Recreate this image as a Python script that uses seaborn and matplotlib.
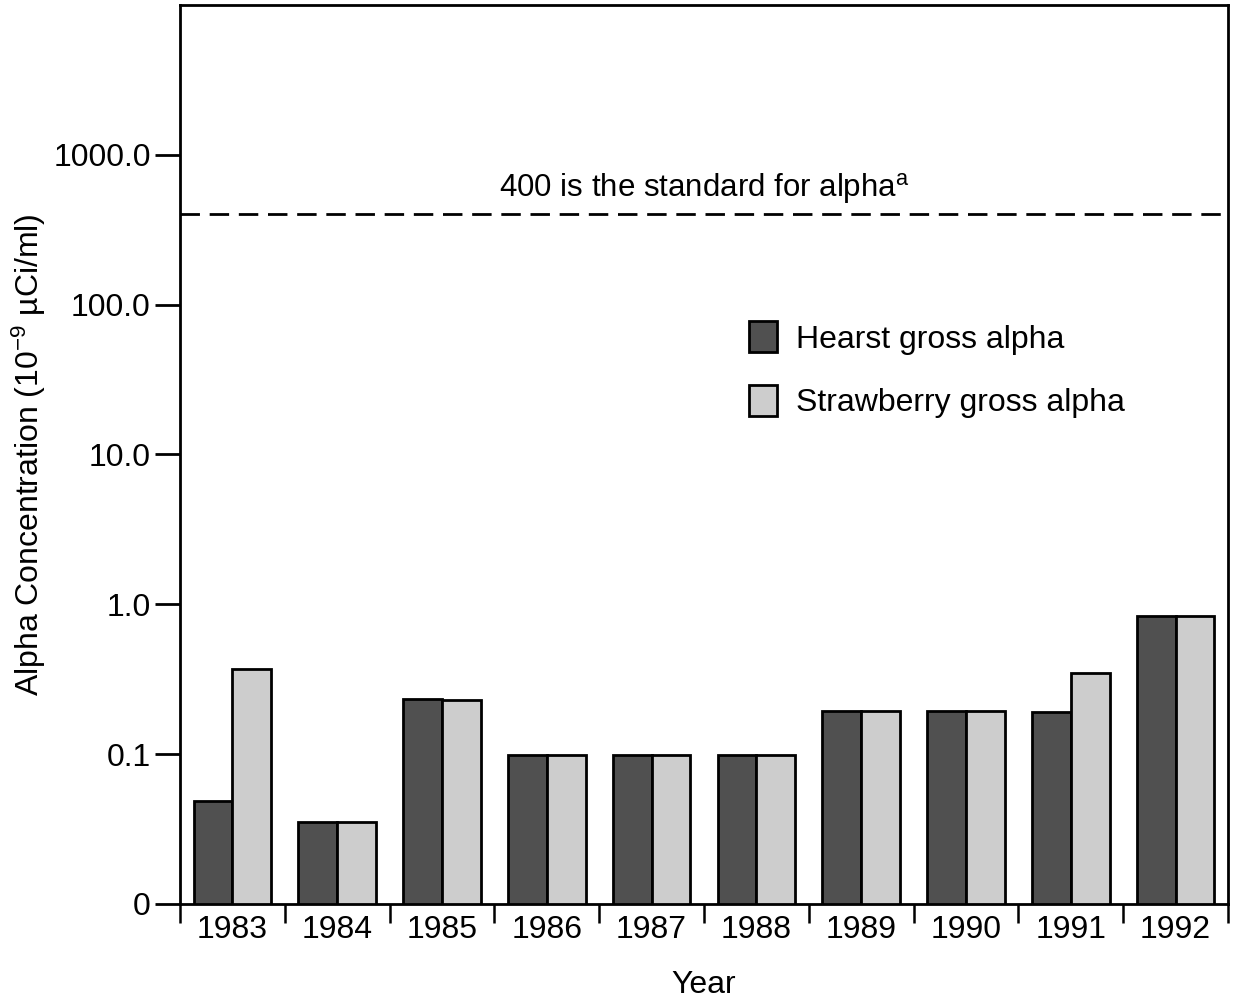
import matplotlib
matplotlib.use("Agg")
import matplotlib.pyplot as plt
import numpy as np
import pandas as pd
import seaborn as sns

years = ["1983", "1984", "1985", "1986", "1987", "1988", "1989", "1990", "1991", "1992"]
hearst = [0.049, 0.035, 0.235, 0.099, 0.099, 0.099, 0.193, 0.193, 0.19, 0.84]
strawberry = [0.37, 0.035, 0.23, 0.099, 0.099, 0.099, 0.193, 0.193, 0.35, 0.84]
series_names = ["Hearst gross alpha", "Strawberry gross alpha"]
ytick_vals = [0.01, 0.1, 1.0, 10.0, 100.0, 1000.0]
ytick_labels = ["0", "0.1", "1.0", "10.0", "100.0", "1000.0"]
standard = 400

df = pd.DataFrame({
    "Year": years * 2,
    "value": hearst + strawberry,
    "series": [series_names[0]] * len(years) + [series_names[1]] * len(years),
})

sns.set_style("white")
plt.rcParams["font.family"] = ["Liberation Sans", "DejaVu Sans"]
plt.rcParams["mathtext.fontset"] = "custom"
plt.rcParams["mathtext.rm"] = "Liberation Sans"
plt.rcParams["mathtext.it"] = "Liberation Sans"
plt.rcParams["text.color"] = "black"
plt.rcParams["axes.labelcolor"] = "black"
plt.rcParams["xtick.color"] = "black"
plt.rcParams["ytick.color"] = "black"

fig = plt.figure(figsize=(12.35, 9.99), dpi=100)
ax = fig.add_axes([0.1457, 0.0951, 0.8486, 0.8999])

sns.barplot(data=df, x="Year", y="value", hue="series",
            palette=["#505050", "#cdcdcd"], width=0.74, gap=0,
            edgecolor="black", linewidth=2, saturation=1, ax=ax)
ax.set_yscale("log")
ax.set_ylim(0.01, 10000)
ax.set_xlim(-0.5, len(years) - 0.5)

# regulatory standard line
ax.axhline(standard, color="black", lw=2, dashes=(7, 3.5))
ax.text(4.5, 525, "400 is the standard for alpha$^{\\mathrm{a}}$",
        ha="center", va="baseline", fontsize=22.5)

ax.set_yticks(ytick_vals)
ax.set_yticklabels(ytick_labels)
ax.yaxis.set_minor_locator(matplotlib.ticker.NullLocator())
ax.tick_params(axis="y", which="major", length=18, width=2, direction="out",
               labelsize=23, left=True, pad=3)

ax.set_xticks(range(len(years)))
ax.set_xticklabels(years)
ax.set_xticks(np.arange(-0.5, len(years)), minor=True)
ax.tick_params(axis="x", which="major", length=0, labelsize=23, pad=8)
ax.tick_params(axis="x", which="minor", length=14, width=1.8, direction="out",
               bottom=True)

for s in ax.spines.values():
    s.set_visible(True)
    s.set_color("black")
    s.set_linewidth(2)

ax.set_xlabel("Year", fontsize=23, labelpad=18)
ax.set_ylabel("Alpha Concentration (10$^{-9}$ µCi/ml)", fontsize=23, labelpad=4)

leg = ax.legend(loc="upper left", bbox_to_anchor=(0.516, 0.68), frameon=False,
                fontsize=23, handlelength=0.85, handleheight=1.1,
                handletextpad=0.6, labelspacing=0.95)
for h in leg.legend_handles:
    h.set_edgecolor("black")
    h.set_linewidth(2)

fig.savefig("out.png", dpi=100)
